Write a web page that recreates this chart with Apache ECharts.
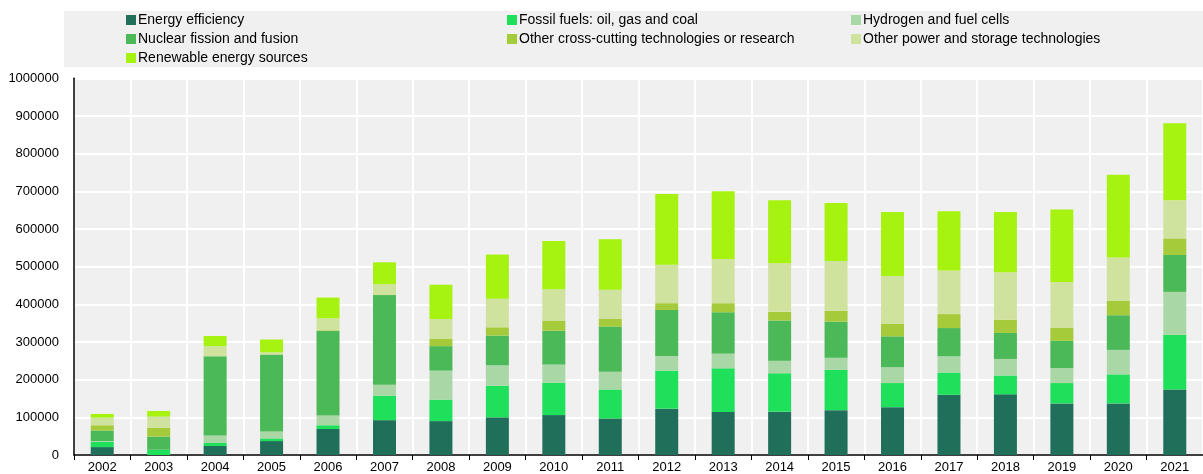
<!DOCTYPE html>
<html>
<head>
<meta charset="utf-8">
<script src="https://cdn.jsdelivr.net/npm/echarts@6/dist/echarts.min.js"></script>
<style>
html,body{margin:0;padding:0;background:#fff;}
#chart{width:1203px;height:474px;}
</style>
</head>
<body>
<div id="chart"></div>
<script>
var years = ['2002','2003','2004','2005','2006','2007','2008','2009','2010','2011','2012','2013','2014','2015','2016','2017','2018','2019','2020','2021'];
var energyEfficiency = [21000,0,24000,37000,69000,92500,90000,100000,106000,97000,123000,114000,115000,119000,127000,160000,161000,137000,137000,174000];
var fossilFuels = [14000,14000,8000,7000,10000,65000,57000,84000,86000,77000,101000,116000,102000,107000,64000,59000,50000,54000,77000,145000];
var hydrogen = [2000,0,20000,18600,26000,29000,77000,54000,48000,47000,39000,39000,33000,32000,42000,43000,44000,40000,65000,114000];
var nuclear = [28000,35000,210000,204000,224000,238000,65000,79000,90000,120000,122000,110000,107000,96000,82000,75000,69000,72000,92000,98000];
var crossCutting = [14000,23000,0,0,2000,0,19000,22000,27000,21000,18000,24000,23000,29000,34000,37000,35000,35000,39000,44000];
var otherPower = [20000,30000,27000,6000,32000,29000,53000,76000,83000,77000,102000,117000,129000,132000,126000,116000,126000,121000,114000,101000];
var renewables = [10000,15000,27000,34000,55000,58000,91000,117000,128000,134000,188000,180000,167000,154000,170000,157000,160000,193000,220000,205000];
var yTicks = [0,100000,200000,300000,400000,500000,600000,700000,800000,900000,1000000];

var names = ['Energy efficiency','Fossil fuels: oil, gas and coal','Hydrogen and fuel cells','Nuclear fission and fusion','Other cross-cutting technologies or research','Other power and storage technologies','Renewable energy sources'];
var colors = ['#1f6f5a','#1ee05a','#a9d8a6','#4bb957','#a6cb3a','#d0e39e','#a6f211'];
var values = [energyEfficiency,fossilFuels,hydrogen,nuclear,crossCutting,otherPower,renewables];

var font = '"Liberation Sans", Arial, sans-serif';
var series = names.map(function(n,i){
  return {
    name:n, type:'bar', stack:'total', data:values[i], barWidth:23,
    itemStyle:{color:colors[i]},
    emphasis:{disabled:true}
  };
});

function legend(left, data){
  return {
    left:left, top:13, orient:'vertical', itemGap:5, itemWidth:10, itemHeight:10,
    icon:'rect', itemStyle:{borderWidth:0},
    textStyle:{fontFamily:font,fontSize:14,color:'#000',lineHeight:14,padding:[0,0,0,-3]},
    data:data, selectedMode:false, padding:0
  };
}

var chart = echarts.init(document.getElementById('chart'), null, {renderer:'canvas'});
chart.setOption({
  animation:false,
  backgroundColor:'#fff',
  graphic:[{type:'rect', shape:{x:64,y:11,width:1139,height:56}, style:{fill:'#f0f0f0'}, z:-10}],
  legend:[
    legend(126,[names[0],names[3],names[6]]),
    legend(507,[names[1],names[4]]),
    legend(851,[names[2],names[5]])
  ],
  grid:{left:74, top:78.3, width:1140, bottom:17.3, show:true, backgroundColor:'#f0f0f0', borderWidth:0},
  xAxis:{
    type:'category', data:years, boundaryGap:true,
    axisLine:{show:true,lineStyle:{color:'#000',width:1.5}},
    axisTick:{show:true,length:5,alignWithLabel:false,lineStyle:{color:'#000'}},
    axisLabel:{fontFamily:font,fontSize:13,color:'#000',margin:6},
    splitLine:{show:true,lineStyle:{color:'#fff',width:2}}
  },
  yAxis:{
    type:'value', min:yTicks[0], max:yTicks[yTicks.length-1], interval:yTicks[1]-yTicks[0],
    axisLine:{show:true,lineStyle:{color:'#000',width:1.5}},
    axisTick:{show:false},
    axisLabel:{fontFamily:font,fontSize:13,color:'#000',margin:15,formatter:function(v){return String(v);}},
    splitLine:{show:true,lineStyle:{color:'#fff',width:2}}
  },
  series:series
});
</script>
</body>
</html>
